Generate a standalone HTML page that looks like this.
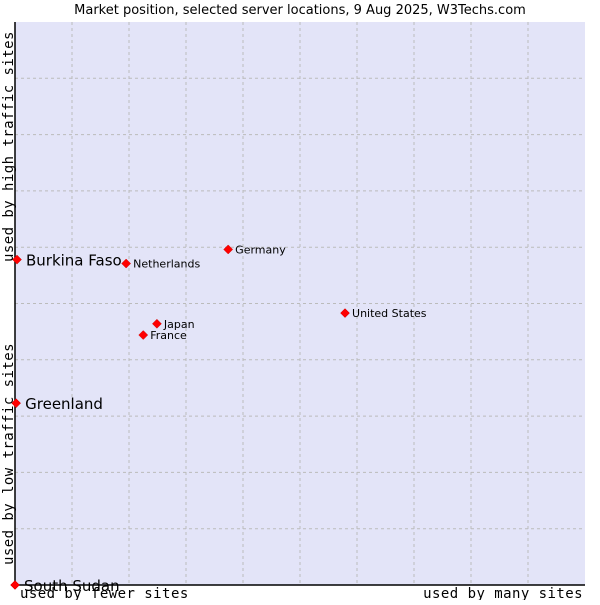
<!DOCTYPE html>
<html><head><meta charset="utf-8"><style>
body{margin:0;background:#fff;width:600px;height:600px;overflow:hidden}
text{font-family:"DejaVu Sans","Liberation Sans",sans-serif}
.mono{font-family:"DejaVu Sans Mono","Liberation Mono",monospace;letter-spacing:0.45px}
</style></head><body>
<svg id="chart" width="600" height="600">
<text x="300" y="14" text-anchor="middle" font-size="13" fill="#000">Market position, selected server locations, 9 Aug 2025, W3Techs.com</text>
<rect x="15" y="22" width="570" height="563" fill="#e3e4f8"/>
<g id="grid"></g>
<line x1="15" y1="22" x2="15" y2="585" stroke="#000" stroke-width="1.5"/>
<line x1="15" y1="585" x2="585" y2="585" stroke="#000" stroke-width="1.5"/>
<text class="mono" x="20" y="598" font-size="14">used by fewer sites</text>
<text class="mono" x="583" y="598" font-size="14" text-anchor="end">used by many sites</text>
<text class="mono" transform="translate(13,565) rotate(-90)" font-size="14">used by low traffic sites</text>
<text class="mono" transform="translate(13,262) rotate(-90)" font-size="14">used by high traffic sites</text>
<g id="points"></g>
</svg>
<script>
const names=["Burkina Faso","Greenland","South Sudan","Netherlands","Germany","Japan","France","United States"];
const xVals=[0.35,0.2,0,19.5,37.4,24.9,22.5,57.9];
const yVals=[57.8,32.3,0,57.1,59.6,46.4,44.4,48.3];
const bigLabel=[true,true,true,false,false,false,false,false];
const X=v=>15+v*5.7, Y=v=>585-v*5.63;
const NS="http://www.w3.org/2000/svg";
const grid=document.getElementById('grid');
for(let i=1;i<10;i++){
 const v=document.createElementNS(NS,'line');
 
 
 v.setAttribute('x1',X(i*10));v.setAttribute('x2',X(i*10));v.setAttribute('y1',22);v.setAttribute('y2',585);
 v.setAttribute('stroke','#bbb');v.setAttribute('stroke-dasharray','3,3');grid.appendChild(v);
 const h=document.createElementNS(NS,'line');
 
 
 h.setAttribute('y1',Y(i*10));h.setAttribute('y2',Y(i*10));h.setAttribute('x1',15);h.setAttribute('x2',585);
 h.setAttribute('stroke','#bbb');h.setAttribute('stroke-dasharray','3,3');grid.appendChild(h);
}
const pts=document.getElementById('points');
names.forEach((n,i)=>{
 const x=X(xVals[i]),y=Y(yVals[i]);
 const d=document.createElementNS(NS,'path');
 
 
 d.setAttribute('d',`M${x-4.5},${y}L${x},${y-4.5}L${x+4.5},${y}L${x},${y+4.5}Z`);
 d.setAttribute('fill','#f00');d.setAttribute('stroke','#c00');d.setAttribute('stroke-width','0.5');
 pts.appendChild(d);
 const t=document.createElementNS(NS,'text');
 
 
 t.setAttribute('x',x+(bigLabel[i]?9:7));t.setAttribute('y',y+(bigLabel[i]?6:4));
 t.setAttribute('font-size',bigLabel[i]?15:11);t.textContent=n;
 pts.appendChild(t);
});
</script>
</body></html>
